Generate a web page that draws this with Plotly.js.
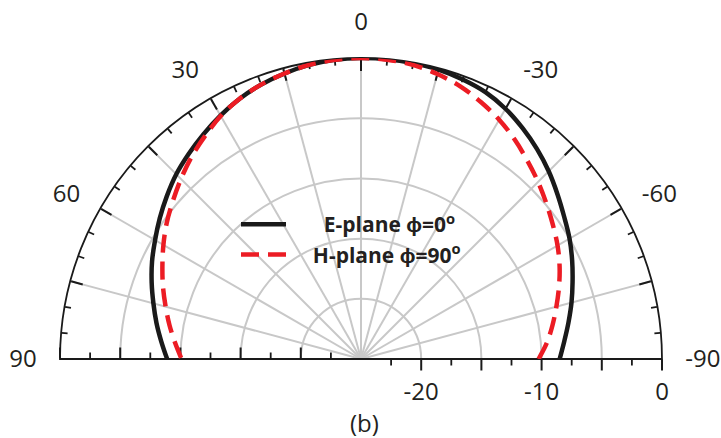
<!DOCTYPE html>
<html>
<head>
<meta charset="utf-8">
<script src="https://cdn.plot.ly/plotly-3.0.1.min.js"></script>
<style>
  html, body { margin: 0; padding: 0; background: #fff; }
  #chart { width: 721px; height: 438px; }
</style>
</head>
<body>
<div id="chart"></div>
<script>
// Elevation angle (deg), from -90 (right) to 90 (left)
const theta = [-90, -85, -80, -75, -70, -65, -60, -55, -50, -45, -40, -35, -30, -25, -20, -15, -10, -5,
               0, 5, 10, 15, 20, 25, 30, 35, 40, 45, 50, 55, 60, 65, 70, 75, 80, 85, 90];

// Normalised gain (dB)
const ePlane = [-8.5, -8.05, -7.5, -6.9, -6.3, -5.65, -5.0, -4.4, -3.7, -2.95, -2.25, -1.6, -1.0, -0.55, -0.3, -0.12, -0.05, 0,
                0, -0.05, -0.2, -0.45, -0.75, -1.15, -1.65, -2.2, -2.75, -3.3, -3.95, -4.6, -5.25, -5.85, -6.5, -7.15, -7.75, -8.35, -8.9];
const hPlane = [-10.25, -9.5, -8.85, -8.2, -7.5, -6.8, -6.15, -5.55, -4.9, -4.2, -3.5, -2.75, -2.05, -1.45, -0.9, -0.5, -0.2, -0.05,
                0, -0.05, -0.2, -0.45, -0.75, -1.15, -1.7, -2.4, -3.1, -3.85, -4.6, -5.3, -6.05, -6.8, -7.5, -8.2, -8.85, -9.5, -10.1];

const NB = '\u00a0';
const seriesNames = [NB.repeat(6) + '<b>E-plane ϕ=0<sup>o</sup></b>', NB.repeat(4) + '<b>H-plane ϕ=90<sup>o</sup></b>'];

// Axis ticks
const angLabelVals = [-90, -60, -30, 0, 30, 60, 90];
const angLabelText = ['-90', '-60', '-30', '0', '30', '60', '90'];
const angMajor = [-90, -75, -60, -45, -30, -15, 0, 15, 30, 45, 60, 75, 90];
const angMinor = [-85, -80, -70, -65, -55, -50, -40, -35, -25, -20, -10, -5, 5, 10, 20, 25, 35, 40, 50, 55, 65, 70, 80, 85];
const radRange = [-25, 0];
const radMajor = [-20, -15, -10, -5, 0];
const radMinor = [-22.5, -17.5, -12.5, -7.5, -2.5];
const radLabelVals = [-20, -10, 0];
const radLabelText = ['-20', '-10', '0'];

const W = 721, H = 438;
const dom = { x: [60 / W, 662 / W], y: [(H - 359) / H, (H - 58) / H] };
const GRID = '#c8c8c8';
const INK = '#1a1a1a';
const FONT = 'Open Sans, Liberation Sans, sans-serif';

function polarBase(angular, radial) {
  return {
    domain: dom,
    sector: [0, 180],
    bgcolor: 'rgba(0,0,0,0)',
    angularaxis: Object.assign({
      rotation: 90, direction: 'counterclockwise', tickmode: 'array',
      showticklabels: false, showgrid: false, showline: false, ticks: ''
    }, angular),
    radialaxis: Object.assign({
      range: radRange, angle: 0, tickmode: 'array',
      showticklabels: false, showgrid: false, showline: false, ticks: ''
    }, radial)
  };
}

// empty traces so every axis layer gets built
const axisLayers = ['polar', 'polar2', 'polar3', 'polar4'].map(sp => ({
  type: 'scatterpolar', subplot: sp, mode: 'lines', r: [], theta: [],
  showlegend: false, hoverinfo: 'skip'
}));

const traces = axisLayers.concat([
  {
    type: 'scatterpolar', subplot: 'polar5', mode: 'lines',
    theta: theta, r: ePlane, name: seriesNames[0],
    line: { color: INK, width: 4.5, shape: 'spline' }
  },
  {
    type: 'scatterpolar', subplot: 'polar5', mode: 'lines',
    theta: theta, r: hPlane, name: seriesNames[1],
    line: { color: '#ec1c24', width: 4.5, dash: '18px,9px', shape: 'spline' }
  }
]);

const layout = {
  width: W, height: H,
  margin: { l: 0, r: 0, t: 0, b: 0 },
  paper_bgcolor: '#fff',
  font: { family: FONT, color: '#231f20' },
  showlegend: true,
  legend: {
    x: 236 / W, y: 1 - 204 / H, xanchor: 'left', yanchor: 'top',
    bgcolor: 'rgba(0,0,0,0)', borderwidth: 0,
    font: { family: FONT, size: 21, color: '#231f20' },
    itemwidth: 45
  },
  // grid, outline and major ticks
  polar: polarBase(
    { tickvals: angMajor, ticks: 'inside', ticklen: 12, tickwidth: 2, tickcolor: INK,
      showgrid: true, gridcolor: GRID, gridwidth: 2, showline: true, linecolor: INK, linewidth: 1.8 },
    { tickvals: radMajor, ticks: 'outside', ticklen: 11, tickwidth: 2, tickcolor: INK,
      showgrid: true, gridcolor: GRID, gridwidth: 2 }
  ),
  // minor ticks (arc and right baseline)
  polar2: polarBase(
    { tickvals: angMinor, ticks: 'inside', ticklen: 6, tickwidth: 1.8, tickcolor: INK },
    { tickvals: radMinor, ticks: 'outside', ticklen: 6, tickwidth: 1.8, tickcolor: INK }
  ),
  // left baseline ticks
  polar3: polarBase(
    { tickvals: [] },
    { angle: 180, tickvals: radMajor, ticks: 'outside', ticklen: 11, tickwidth: 2, tickcolor: INK }
  ),
  polar4: polarBase(
    { tickvals: [] },
    { angle: 180, tickvals: radMinor, ticks: 'outside', ticklen: 6, tickwidth: 1.8, tickcolor: INK }
  ),
  // labels and patterns
  polar5: polarBase(
    { tickvals: angLabelVals, ticktext: angLabelText, showticklabels: true, ticks: 'outside',
      ticklen: 18, tickcolor: 'rgba(0,0,0,0)', tickfont: { family: FONT, size: 24, color: '#231f20' } },
    { tickvals: radLabelVals, ticktext: radLabelText, showticklabels: true, side: 'clockwise',
      ticks: 'outside', ticklen: 12, tickcolor: 'rgba(0,0,0,0)',
      tickfont: { family: FONT, size: 24, color: '#231f20' } }
  ),
  annotations: [{
    text: '(b)', xref: 'paper', yref: 'paper', x: 364 / W, y: 1 - 422 / H,
    xanchor: 'center', yanchor: 'middle', showarrow: false,
    font: { family: FONT, size: 24, color: '#231f20' }
  }]
};

Plotly.newPlot('chart', traces, layout, { staticPlot: true, displayModeBar: false });
</script>
</body>
</html>
